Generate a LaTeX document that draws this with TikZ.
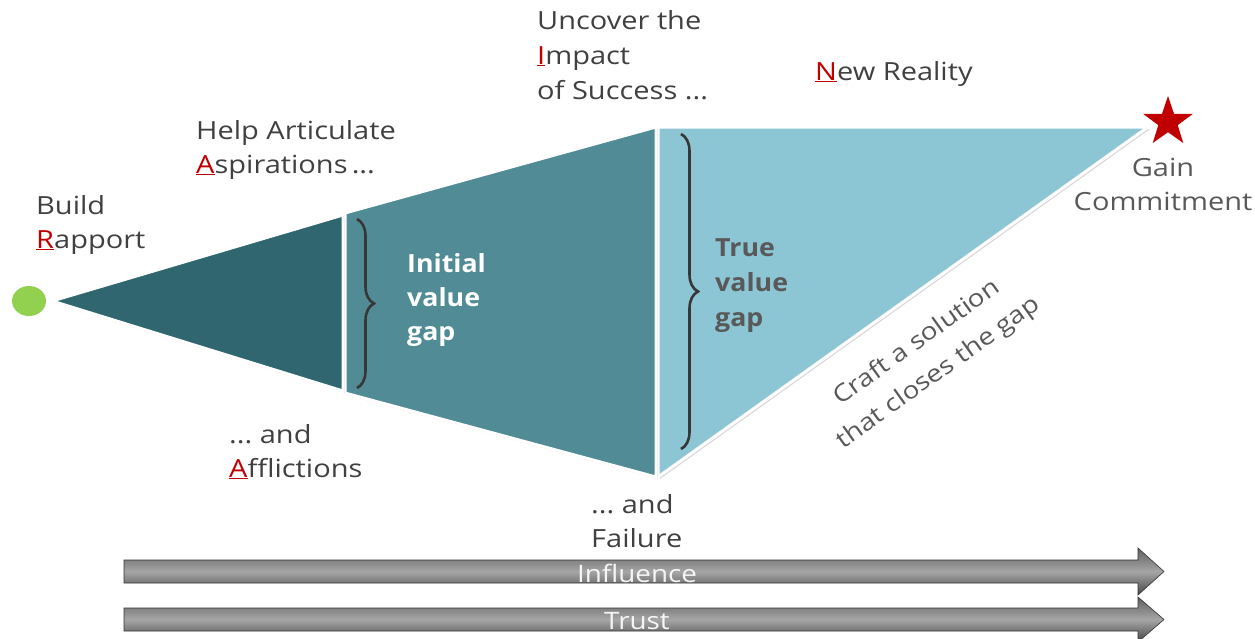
\documentclass[tikz,border=0pt]{standalone}
\usepackage{fontspec}
\setmainfont{Open Sans}[FakeStretch=1.16, BoldFeatures={FakeStretch=1.07}]
\usetikzlibrary{decorations.pathreplacing,shadows,shapes.geometric,calc}
\definecolor{darkteal}{RGB}{47,102,112}
\definecolor{midteal}{RGB}{80,139,150}
\definecolor{lightteal}{RGB}{140,198,213}
\definecolor{leafgreen}{RGB}{146,208,80}
\definecolor{accent}{RGB}{192,0,0}
\definecolor{ink}{RGB}{64,64,64}
\definecolor{softink}{RGB}{89,89,89}
\definecolor{bracecol}{RGB}{55,55,55}
\newcommand{\keyletter}[1]{\textcolor{accent}{\underline{#1}}}
\begin{document}
\begin{tikzpicture}[x=1pt,y=-1pt,
  lbl/.style={anchor=base west, inner sep=0pt, text=ink, font=\fontsize{25}{30}\selectfont},
  gaplbl/.style={anchor=base west, inner sep=0pt, font=\fontsize{25}{30}\selectfont\bfseries},
  panel/.style={draw=white, line width=3pt, line join=miter,
    drop shadow={opacity=0.3, shadow xshift=2pt, shadow yshift=-2pt}},
  gapbrace/.style={decorate, decoration={brace, amplitude=17pt}, draw=bracecol, line width=2.6pt},
  bar/.style={draw=gray!40!black, line width=0.6pt, top color=gray!75!black, bottom color=gray!55!black, middle color=gray!70!white},
  barlbl/.style={anchor=base, inner sep=0pt, text=white!92!gray, font=\fontsize{24}{28}\selectfont}]

\useasboundingbox (0,0) rectangle (1255,638);

% the three stages of the funnel
\path[panel, fill=lightteal] (658,127) -- (1148,127) -- (658,477) -- cycle;
\path[panel, fill=midteal] (345,213) -- (656,127) -- (656,477) -- (345,393) -- cycle;
\path[panel, fill=darkteal] (52,301) -- (343,215) -- (343,391) -- cycle;

% start and finish markers
\node[ellipse, fill=leafgreen, minimum width=34pt, minimum height=30pt, inner sep=0pt] (start) at (29,301) {};
\node[star, star points=5, star point ratio=2.55, fill=accent, minimum size=52pt, inner sep=0pt] (goal) at (1168,122) {};

% braces marking the value gaps
\coordinate (b1top) at (357,219);
\coordinate (b1bot) at (357,388);
\draw[gapbrace] (b1top) -- (b1bot);
\coordinate (b2top) at (681,134);
\coordinate (b2bot) at (681,449);
\draw[gapbrace] (b2top) -- (b2bot);

\node[gaplbl, text=white] (ig1) at (407,272) {Initial};
\node[gaplbl, text=white] (ig2) at (407,306) {value};
\node[gaplbl, text=white] (ig3) at (407,340) {gap};
\node[gaplbl, text=softink] (tg1) at (715,256) {True};
\node[gaplbl, text=softink] (tg2) at (715,291) {value};
\node[gaplbl, text=softink] (tg3) at (715,326) {gap};

% stage labels
\node[lbl] (r1) at (36,214) {Build};
\node[lbl] (r2) at (36,248) {\keyletter{R}apport};
\node[lbl] (a1) at (196,139) {Help Articulate};
\node[lbl] (a2) at (196,173) {\keyletter{A}spirations\,...};
\node[lbl] (f1) at (229,443) {...\ and};
\node[lbl] (f2) at (229,477) {\keyletter{A}fflictions};
\node[lbl] (i1) at (537,29) {Uncover the};
\node[lbl] (i2) at (537,64) {\keyletter{I}mpact};
\node[lbl] (i3) at (537,99) {of Success ...};
\node[lbl] (s1) at (591,513) {...\ and};
\node[lbl] (s2) at (591,547) {Failure};
\node[lbl] (n1) at (815,80) {\keyletter{N}ew Reality};
\node[lbl, anchor=base, text=softink] (g1) at (1163,176) {Gain};
\node[lbl, anchor=base, text=softink] (g2) at (1163,210) {Commitment};

\node[rotate=35.6, align=center, inner sep=0pt, text=softink,
      font=\fontsize{24}{37}\selectfont] (craft) at (928,358)
      {Craft a solution\\that closes the gap};

% influence and trust bars
\path[bar] (124,560) -- (1138,560) -- (1138,548) -- (1164,571.5) -- (1138,595) -- (1138,583) -- (124,583) -- cycle;
\path[bar] (124,608) -- (1138,608) -- (1138,597) -- (1164,619.5) -- (1138,642) -- (1138,631) -- (124,631) -- cycle;
\node[barlbl] (influence) at (637,582) {Influence};
\node[barlbl] (trust) at (637,629) {Trust};
\end{tikzpicture}
\end{document}
